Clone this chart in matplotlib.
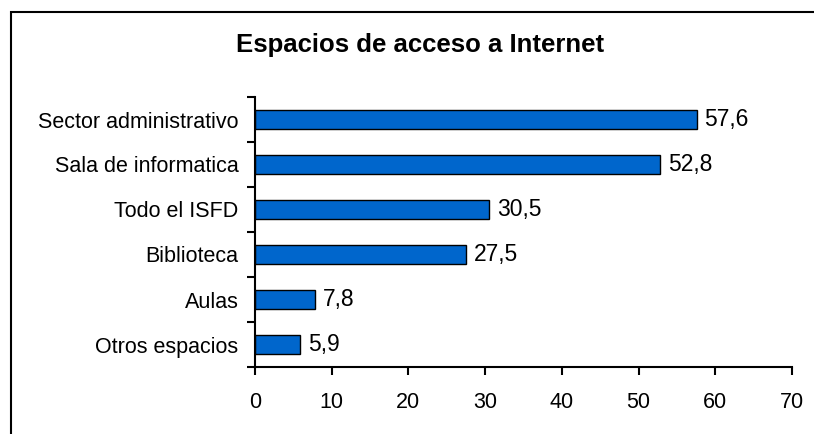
import matplotlib.pyplot as plt
import matplotlib.patches as patches

categories = ['Sector administrativo', 'Sala de informatica', 'Todo el ISFD',
              'Biblioteca', 'Aulas', 'Otros espacios']
values = [57.6, 52.8, 30.5, 27.5, 7.8, 5.9]
xticks = [0, 10, 20, 30, 40, 50, 60, 70]

plt.rcParams['font.family'] = ['Liberation Sans', 'DejaVu Sans']

W, H = 814, 434
fig = plt.figure(figsize=(W / 100, H / 100), dpi=100, facecolor='white')

# outer frame (runs off the right and bottom edges)
fig.patches.append(patches.Rectangle((11 / W, -0.1), 1.2, 1 - 12 / H + 0.1,
                                     transform=fig.transFigure, fill=False,
                                     edgecolor='black', linewidth=1.5))

ax = fig.add_axes([255 / W, 1 - 367 / H, (792 - 255) / W, (367 - 97) / H])
n = len(categories)
ypos = list(range(n))[::-1]
ax.barh(ypos, values, height=0.43, color='#0066CC', edgecolor='black', linewidth=1)
for y, v in zip(ypos, values):
    ax.text(v + 1.0, y, f'{v:.1f}'.replace('.', ','), va='center', ha='left',
            fontsize=16.5)

ax.set_xlim(0, 70)
ax.set_ylim(-0.5, n - 0.5)
ax.set_xticks(xticks)
ax.set_xticklabels([str(t) for t in xticks], fontsize=15.5)
ax.tick_params(axis='x', direction='out', length=6, width=1.5, pad=12)

ax.set_yticks([i - 0.5 for i in range(n + 1)])
ax.set_yticklabels([])
ax.set_yticks(ypos, minor=True)
ax.set_yticklabels(categories, minor=True, fontsize=15.5)
ax.tick_params(axis='y', which='major', direction='out', length=6, width=1.5)
ax.tick_params(axis='y', which='minor', length=0, pad=12)

for s in ['top', 'right']:
    ax.spines[s].set_visible(False)
for s in ['left', 'bottom']:
    ax.spines[s].set_linewidth(1.5)

fig.text(420 / W, 1 - 45 / H, 'Espacios de acceso a Internet', ha='center',
         va='center', fontsize=18.5, fontweight='bold')

fig.savefig('out.png', dpi=100, facecolor='white')
